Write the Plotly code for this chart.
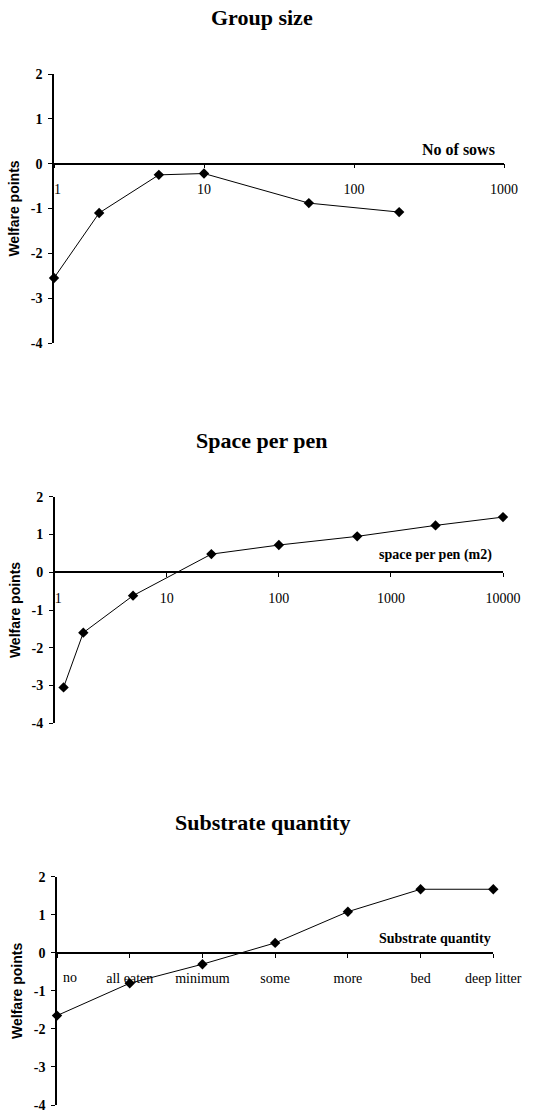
import plotly.graph_objects as go

# Group size panel
sows = [1, 2, 5, 10, 50, 200]
sows_points = [-2.55, -1.1, -0.25, -0.22, -0.88, -1.08]
sows_ticks = [1, 10, 100, 1000]

# Space per pen panel
space = [1.2, 1.8, 5, 25, 100, 500, 2500, 10000]
space_points = [-3.05, -1.6, -0.62, 0.48, 0.72, 0.95, 1.24, 1.46]
space_ticks = [1, 10, 100, 1000, 10000]

# Substrate quantity panel
substrate = ["no", "all eaten", "minimum", "some", "more", "bed", "deep litter"]
substrate_points = [-1.65, -0.8, -0.3, 0.26, 1.08, 1.67, 1.67]

y_ticks = [-4, -3, -2, -1, 0, 1, 2]

W, H = 537, 1113
SERIF = "Liberation Serif, Times New Roman, serif"
SANS = "Liberation Sans, Arial, sans-serif"
NBSP = "\u00a0"

# panel geometry in pixels: left, right, top, bottom
panels = [
    (54, 504, 74, 343),
    (54.7, 503, 496.7, 723.3),
    (57, 493.3, 876.7, 1105),
]

fig = go.Figure()

line_style = dict(color="black", width=1)
marker_style = dict(symbol="diamond", size=8, color="black")

fig.add_trace(go.Scatter(x=sows, y=sows_points, mode="lines+markers",
                         line=line_style, marker=marker_style,
                         cliponaxis=False, xaxis="x", yaxis="y"))
fig.add_trace(go.Scatter(x=space, y=space_points, mode="lines+markers",
                         line=line_style, marker=marker_style,
                         cliponaxis=False, xaxis="x2", yaxis="y2"))
fig.add_trace(go.Scatter(x=substrate, y=substrate_points, mode="lines+markers",
                         line=line_style, marker=marker_style,
                         cliponaxis=False, xaxis="x3", yaxis="y3"))

layout = dict(
    width=W, height=H,
    margin=dict(l=0, r=0, t=0, b=0, autoexpand=False),
    paper_bgcolor="white", plot_bgcolor="white",
    showlegend=False,
)


def log_labels(vals):
    # the first label sits just right of the vertical axis
    return [NBSP * 2 + str(v) if k == 0 else str(v) for k, v in enumerate(vals)]


x_specs = [
    dict(type="log", range=[0, 3], tickvals=sows_ticks,
         ticktext=log_labels(sows_ticks)),
    dict(type="log", range=[0, 4], tickvals=space_ticks,
         ticktext=log_labels(space_ticks)),
    # the first category label is drawn separately, clear of the vertical axis
    dict(type="category", range=[0, 6], categoryorder="array",
         categoryarray=substrate, tickvals=substrate,
         ticktext=[""] + substrate[1:]),
]

for i, ((l, r, t, b), xs) in enumerate(zip(panels, x_specs)):
    sfx = "" if i == 0 else str(i + 1)
    y0 = 1 - b / H
    y1 = 1 - t / H
    zero_pos = y0 + (4 / 6) * (y1 - y0)
    layout["xaxis" + sfx] = dict(
        domain=[l / W, r / W], anchor="free", position=zero_pos,
        automargin=False,
        showline=True, linecolor="black", linewidth=1.5,
        ticks="outside", ticklen=4, tickcolor="black", tickwidth=1,
        showgrid=False, zeroline=False,
        tickfont=dict(family=SERIF, size=14, color="black"),
        ticklabelstandoff=9,
        **xs,
    )
    layout["yaxis" + sfx] = dict(
        domain=[y0, y1], anchor="x" + sfx, range=[-4, 2],
        automargin=False,
        tickvals=y_ticks, ticktext=[str(v) for v in y_ticks],
        showline=True, linecolor="black", linewidth=1.5,
        ticks="outside", ticklen=4, tickcolor="black", tickwidth=1,
        showgrid=False, zeroline=False,
        tickfont=dict(family=SERIF, size=14, color="black", weight="bold"),
        ticklabelstandoff=3,
        title=dict(text="Welfare points", standoff=8,
                   font=dict(family=SANS, size=14, color="black", weight="bold")),
    )

fig.update_layout(**layout)

fig.add_annotation(text=substrate[0], xref="x3", yref="y3", x=0, y=0,
                   xanchor="center", yanchor="middle", xshift=13, yshift=-25,
                   showarrow=False,
                   font=dict(family=SERIF, size=14, color="black"))

titles = [("Group size", 17), ("Space per pen", 440), ("Substrate quantity", 822)]
for text, ypx in titles:
    fig.add_annotation(text=f"<b>{text}</b>", xref="paper", yref="paper",
                       x=262 / W, y=1 - ypx / H, xanchor="center", yanchor="middle",
                       showarrow=False,
                       font=dict(family=SERIF, size=22, color="black"))

axis_notes = [("No of sows", 458, 149, 16), ("space per pen (m2)", 435, 555, 14),
              ("Substrate quantity", 435, 938, 14)]
for text, xpx, ypx, size in axis_notes:
    fig.add_annotation(text=f"<b>{text}</b>", xref="paper", yref="paper",
                       x=xpx / W, y=1 - ypx / H, xanchor="center", yanchor="middle",
                       showarrow=False,
                       font=dict(family=SERIF, size=size, color="black"))

fig.write_html("out.html")
